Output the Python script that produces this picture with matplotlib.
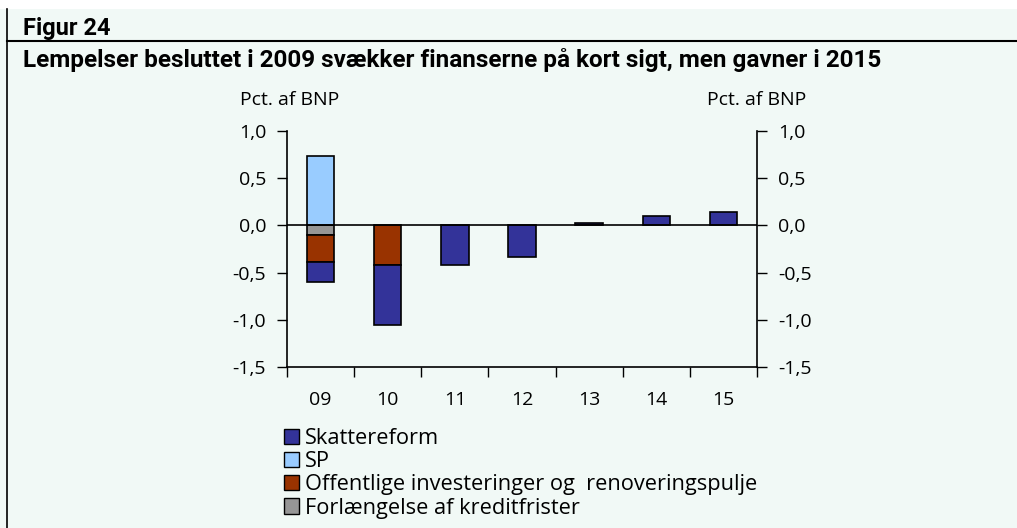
import matplotlib
matplotlib.use("Agg")
import matplotlib.pyplot as plt
from matplotlib.patches import Patch
from matplotlib.lines import Line2D
import numpy as np

# data (pct. af BNP)
years = ["09", "10", "11", "12", "13", "14", "15"]
skattereform = [-0.21, -0.63, -0.42, -0.34, 0.03, 0.10, 0.14]
sp = [0.74, 0.0, 0.0, 0.0, 0.0, 0.0, 0.0]
offentlige = [-0.29, -0.42, 0.0, 0.0, 0.0, 0.0, 0.0]
kredit = [-0.10, 0.0, 0.0, 0.0, 0.0, 0.0, 0.0]

series_names = ["Skattereform", "SP", "Offentlige investeringer og  renoveringspulje",
                "Forlængelse af kreditfrister"]
colors = ["#333399", "#99ccff", "#993300", "#969696"]

yticks = [1.0, 0.5, 0.0, -0.5, -1.0, -1.5]
ytick_labels = ["1,0", "0,5", "0,0", "-0,5", "-1,0", "-1,5"]

bg = "#f1f9f6"
plt.rcParams['font.family'] = ['Open Sans', 'DejaVu Sans']

fig = plt.figure(figsize=(10.17, 5.28), dpi=100)
fig.patch.set_facecolor("white")

# background panel + header lines
fig.patches.append(matplotlib.patches.Rectangle((0, 0), 1, 1 - 9/528, transform=fig.transFigure,
                                                facecolor=bg, edgecolor="none", zorder=-10))
fig.lines.append(Line2D([7/1017, 7/1017], [0, 1 - 9/528], transform=fig.transFigure,
                        color="black", lw=1.2))
fig.lines.append(Line2D([7/1017, 1], [1 - 41/528, 1 - 41/528], transform=fig.transFigure,
                        color="black", lw=1.5))

fig.text(23/1017, 1 - 28/528, "Figur 24", fontsize=17, fontweight="bold", va="center",
         family=["Roboto", "DejaVu Sans"])
fig.text(23/1017, 1 - 60/528, "Lempelser besluttet i 2009 svækker finanserne på kort sigt, men gavner i 2015",
         fontsize=17.5, fontweight="bold", va="center",
         family=["Roboto", "DejaVu Sans"])

ax = fig.add_axes([287/1017, 1 - 367/528, 470/1017, 236/528])
ax.set_facecolor(bg)

x = np.arange(len(years))
w = 0.41
pos_base = np.zeros(len(years))
neg_base = np.zeros(len(years))
# stacking order: gray nearest zero, then orange, then blue; SP on positive side
order = [(kredit, colors[3]), (offentlige, colors[2]), (skattereform, colors[0]), (sp, colors[1])]
for vals, c in order:
    vals = np.array(vals)
    bottoms = np.where(vals >= 0, pos_base, neg_base)
    mask = vals != 0
    ax.bar(x[mask], vals[mask], w, bottom=bottoms[mask], color=c, edgecolor="black", linewidth=1.2,
           zorder=3)
    pos_base = pos_base + np.where(vals > 0, vals, 0)
    neg_base = neg_base + np.where(vals < 0, vals, 0)

ax.axhline(0, color="black", lw=1.2, zorder=4)

ax.set_xlim(-0.5, len(years) - 0.5)
ax.set_ylim(-1.5, 1.0)
ax.set_yticks(yticks)
ax.set_yticklabels(ytick_labels)
ax.set_xticks(np.arange(len(years) + 1) - 0.5)
ax.set_xticklabels([])
ax.set_xticks(x, minor=True)
ax.set_xticklabels(years, minor=True)
ax.tick_params(axis="x", which="major", direction="out", length=7, width=1, color="black")
ax.tick_params(axis="x", which="minor", length=0, pad=17, labelsize=14)
ax.tick_params(axis="y", direction="out", length=7, width=1, labelsize=14, pad=8,
               left=True, right=True, labelleft=True, labelright=True)
for s in ["left", "right", "bottom"]:
    ax.spines[s].set_linewidth(1.2)
ax.spines["top"].set_visible(False)

fig.text(290/1017, 1 - 100/528, "Pct. af BNP", fontsize=14, ha="center", va="center")
fig.text(757/1017, 1 - 100/528, "Pct. af BNP", fontsize=14, ha="center", va="center")

handles = [Patch(facecolor=c, edgecolor="black", linewidth=1) for c in colors]
fig.legend(handles, series_names, loc="upper left", bbox_to_anchor=(284/1017, 1 - 428/528),
           frameon=False, fontsize=15.7, handlelength=0.7, handleheight=0.7,
           handletextpad=0.25, labelspacing=0.1, borderaxespad=0, borderpad=0)

fig.savefig("out.png", dpi=100, facecolor=fig.get_facecolor())
